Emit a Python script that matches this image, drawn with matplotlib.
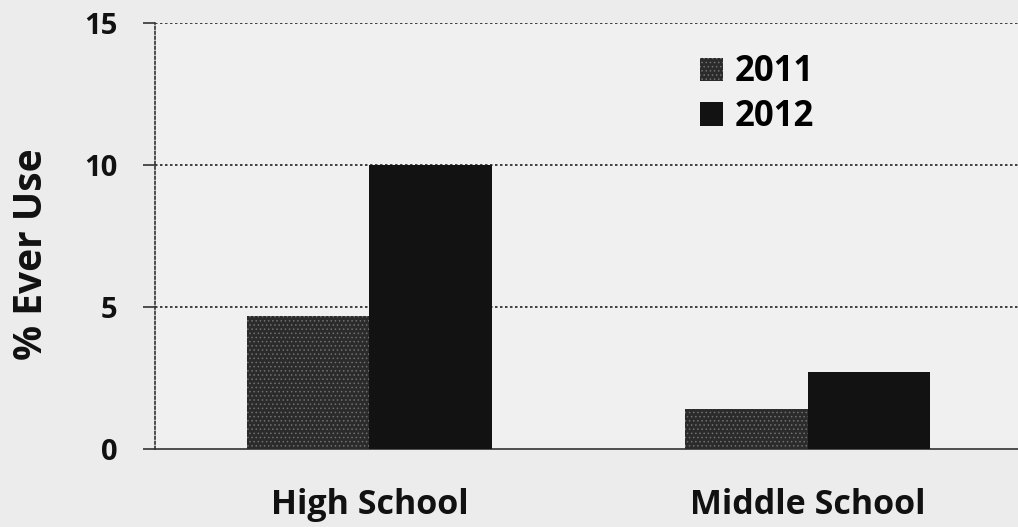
import matplotlib
matplotlib.use("Agg")
import matplotlib.pyplot as plt
import numpy as np

# ── data ────────────────────────────────────────────────────────────────────
categories = ["High School", "Middle School"]
years = ["2011", "2012"]
values_2011 = [4.7, 1.4]
values_2012 = [10.0, 2.7]
y_ticks = [0, 5, 10, 15]

# ── style ───────────────────────────────────────────────────────────────────
BG = "#ececec"
FONT = ["Open Sans", "DejaVu Sans"]
plt.rcParams["hatch.color"] = "#707070"
plt.rcParams["hatch.linewidth"] = 0.6

fig = plt.figure(figsize=(10.18, 5.27), dpi=100)
fig.patch.set_facecolor(BG)
ax = fig.add_axes([0.152, 0.148, 0.848, 0.808])
ax.set_facecolor("#f0f0f0")

x = np.arange(len(categories))
w = 0.28
ax.bar(x - w / 2, values_2011, w, color="#2b2b2b", hatch="....",
       linewidth=0, label=years[0], zorder=3)
ax.bar(x + w / 2, values_2012, w, color="#121212",
       linewidth=0, label=years[1], zorder=3)

ax.set_xlim(-0.49, 1.48)
ax.set_ylim(0, 15)
ax.set_yticks(y_ticks)
ax.set_yticklabels([str(t) for t in y_ticks], fontsize=21, fontweight="bold",
                   family=FONT, color="#111111")
ax.set_xticks(x)
ax.set_xticklabels(categories, fontsize=24.5, fontweight="bold",
                   family=FONT, color="#111111")
ax.tick_params(axis="x", length=0, pad=28)
ax.tick_params(axis="y", length=9, width=1.2, color="#333333",
               direction="out", pad=18)

# dotted grid + spines
for t in y_ticks[1:]:
    ax.axhline(t, color="#222222", lw=1.2, ls=(0, (1.5, 1.5)), zorder=1)
for s in ["top", "right"]:
    ax.spines[s].set_visible(False)
ax.spines["left"].set_linestyle((0, (1.5, 1.5)))
ax.spines["left"].set_color("#333333")
ax.spines["left"].set_linewidth(1.2)
ax.spines["bottom"].set_color("#333333")
ax.spines["bottom"].set_linewidth(1.2)

ax.set_ylabel("% Ever Use", fontsize=28, fontweight="bold", family=FONT,
              color="#111111")
ax.yaxis.set_label_coords(-0.12, 0.458)

leg = ax.legend(loc="upper left", bbox_to_anchor=(0.595, 1.0), frameon=False,
                prop={"family": FONT, "weight": "bold", "size": 25},
                handlelength=0.66, handleheight=0.66, handletextpad=0.35,
                labelspacing=0.25)

fig.savefig("out.png", dpi=100, facecolor=fig.get_facecolor())
